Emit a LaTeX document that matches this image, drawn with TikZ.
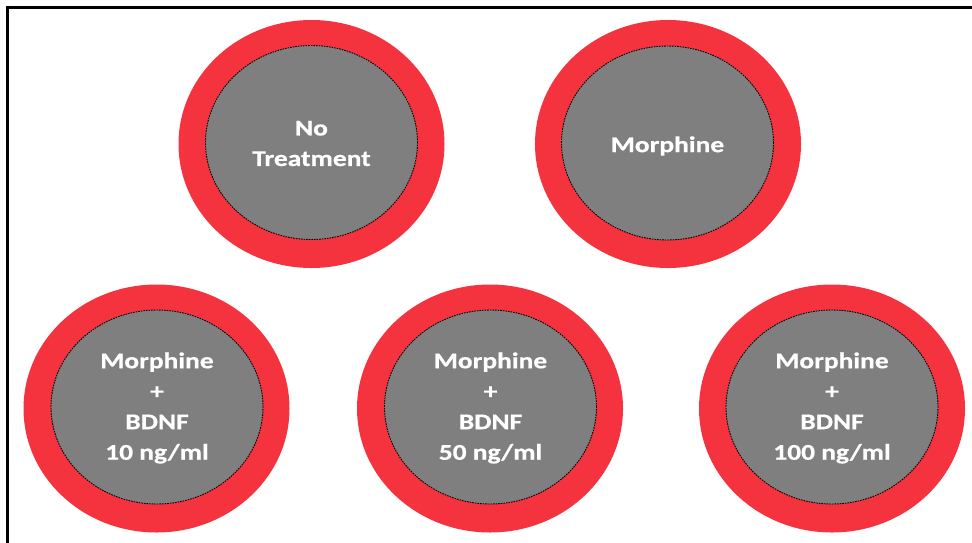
\documentclass[tikz,border=0pt]{standalone}
\usepackage{fontspec}
\usetikzlibrary{shapes.geometric}
\newfontfamily\lblfont[FakeStretch=1.22,FakeBold=0.6]{Carlito}
\definecolor{ringred}{HTML}{F5333F}
\definecolor{coregray}{HTML}{7F7F7F}
\tikzset{
  outerring/.style={ellipse, fill=ringred, draw=none, inner sep=0pt, minimum width=266pt, minimum height=248pt},
  innercore/.style={ellipse, fill=coregray, draw=black, line width=0.9pt, dash pattern=on 1.6pt off 1pt, inner sep=0pt, minimum width=212pt, minimum height=194pt},
  lbl/.style={text=white, align=center, inner sep=0pt, font=\lblfont\bfseries\fontsize{22.5}{30.5}\selectfont}
}
\begin{document}
\begin{tikzpicture}[x=1pt,y=-1pt]
\useasboundingbox (0,0) rectangle (972,542);
\begin{scope}
\clip (0,0) rectangle (972,542);
\draw[line width=3pt, black] (7.5,7.5) rectangle (990,560);
\end{scope}
% top row
\node[outerring] (o1) at (311.5,144) {};
\node[innercore] (i1) at (311.5,142.5) {};
\node[lbl] (t1) at ([yshift=-1pt]i1) {No\\Treatment};
\node[outerring] (o2) at (668,144) {};
\node[innercore] (i2) at (667.5,143) {};
\node[lbl] (t2) at ([yshift=-3pt]i2) {Morphine};
% bottom row
\node[outerring] (o3) at (156.5,408.5) {};
\node[innercore] (i3) at (157,407) {};
\node[lbl] (t3) at ([yshift=-1pt]i3) {Morphine\\+\\BDNF\\10 ng/ml};
\node[outerring] (o4) at (490,408.5) {};
\node[innercore] (i4) at (490.5,407) {};
\node[lbl] (t4) at ([yshift=-1pt]i4) {Morphine\\+\\BDNF\\50 ng/ml};
\node[outerring] (o5) at (832,408.5) {};
\node[innercore] (i5) at (832,407) {};
\node[lbl] (t5) at ([yshift=-1pt]i5) {Morphine\\+\\BDNF\\100 ng/ml};
\end{tikzpicture}
\end{document}
